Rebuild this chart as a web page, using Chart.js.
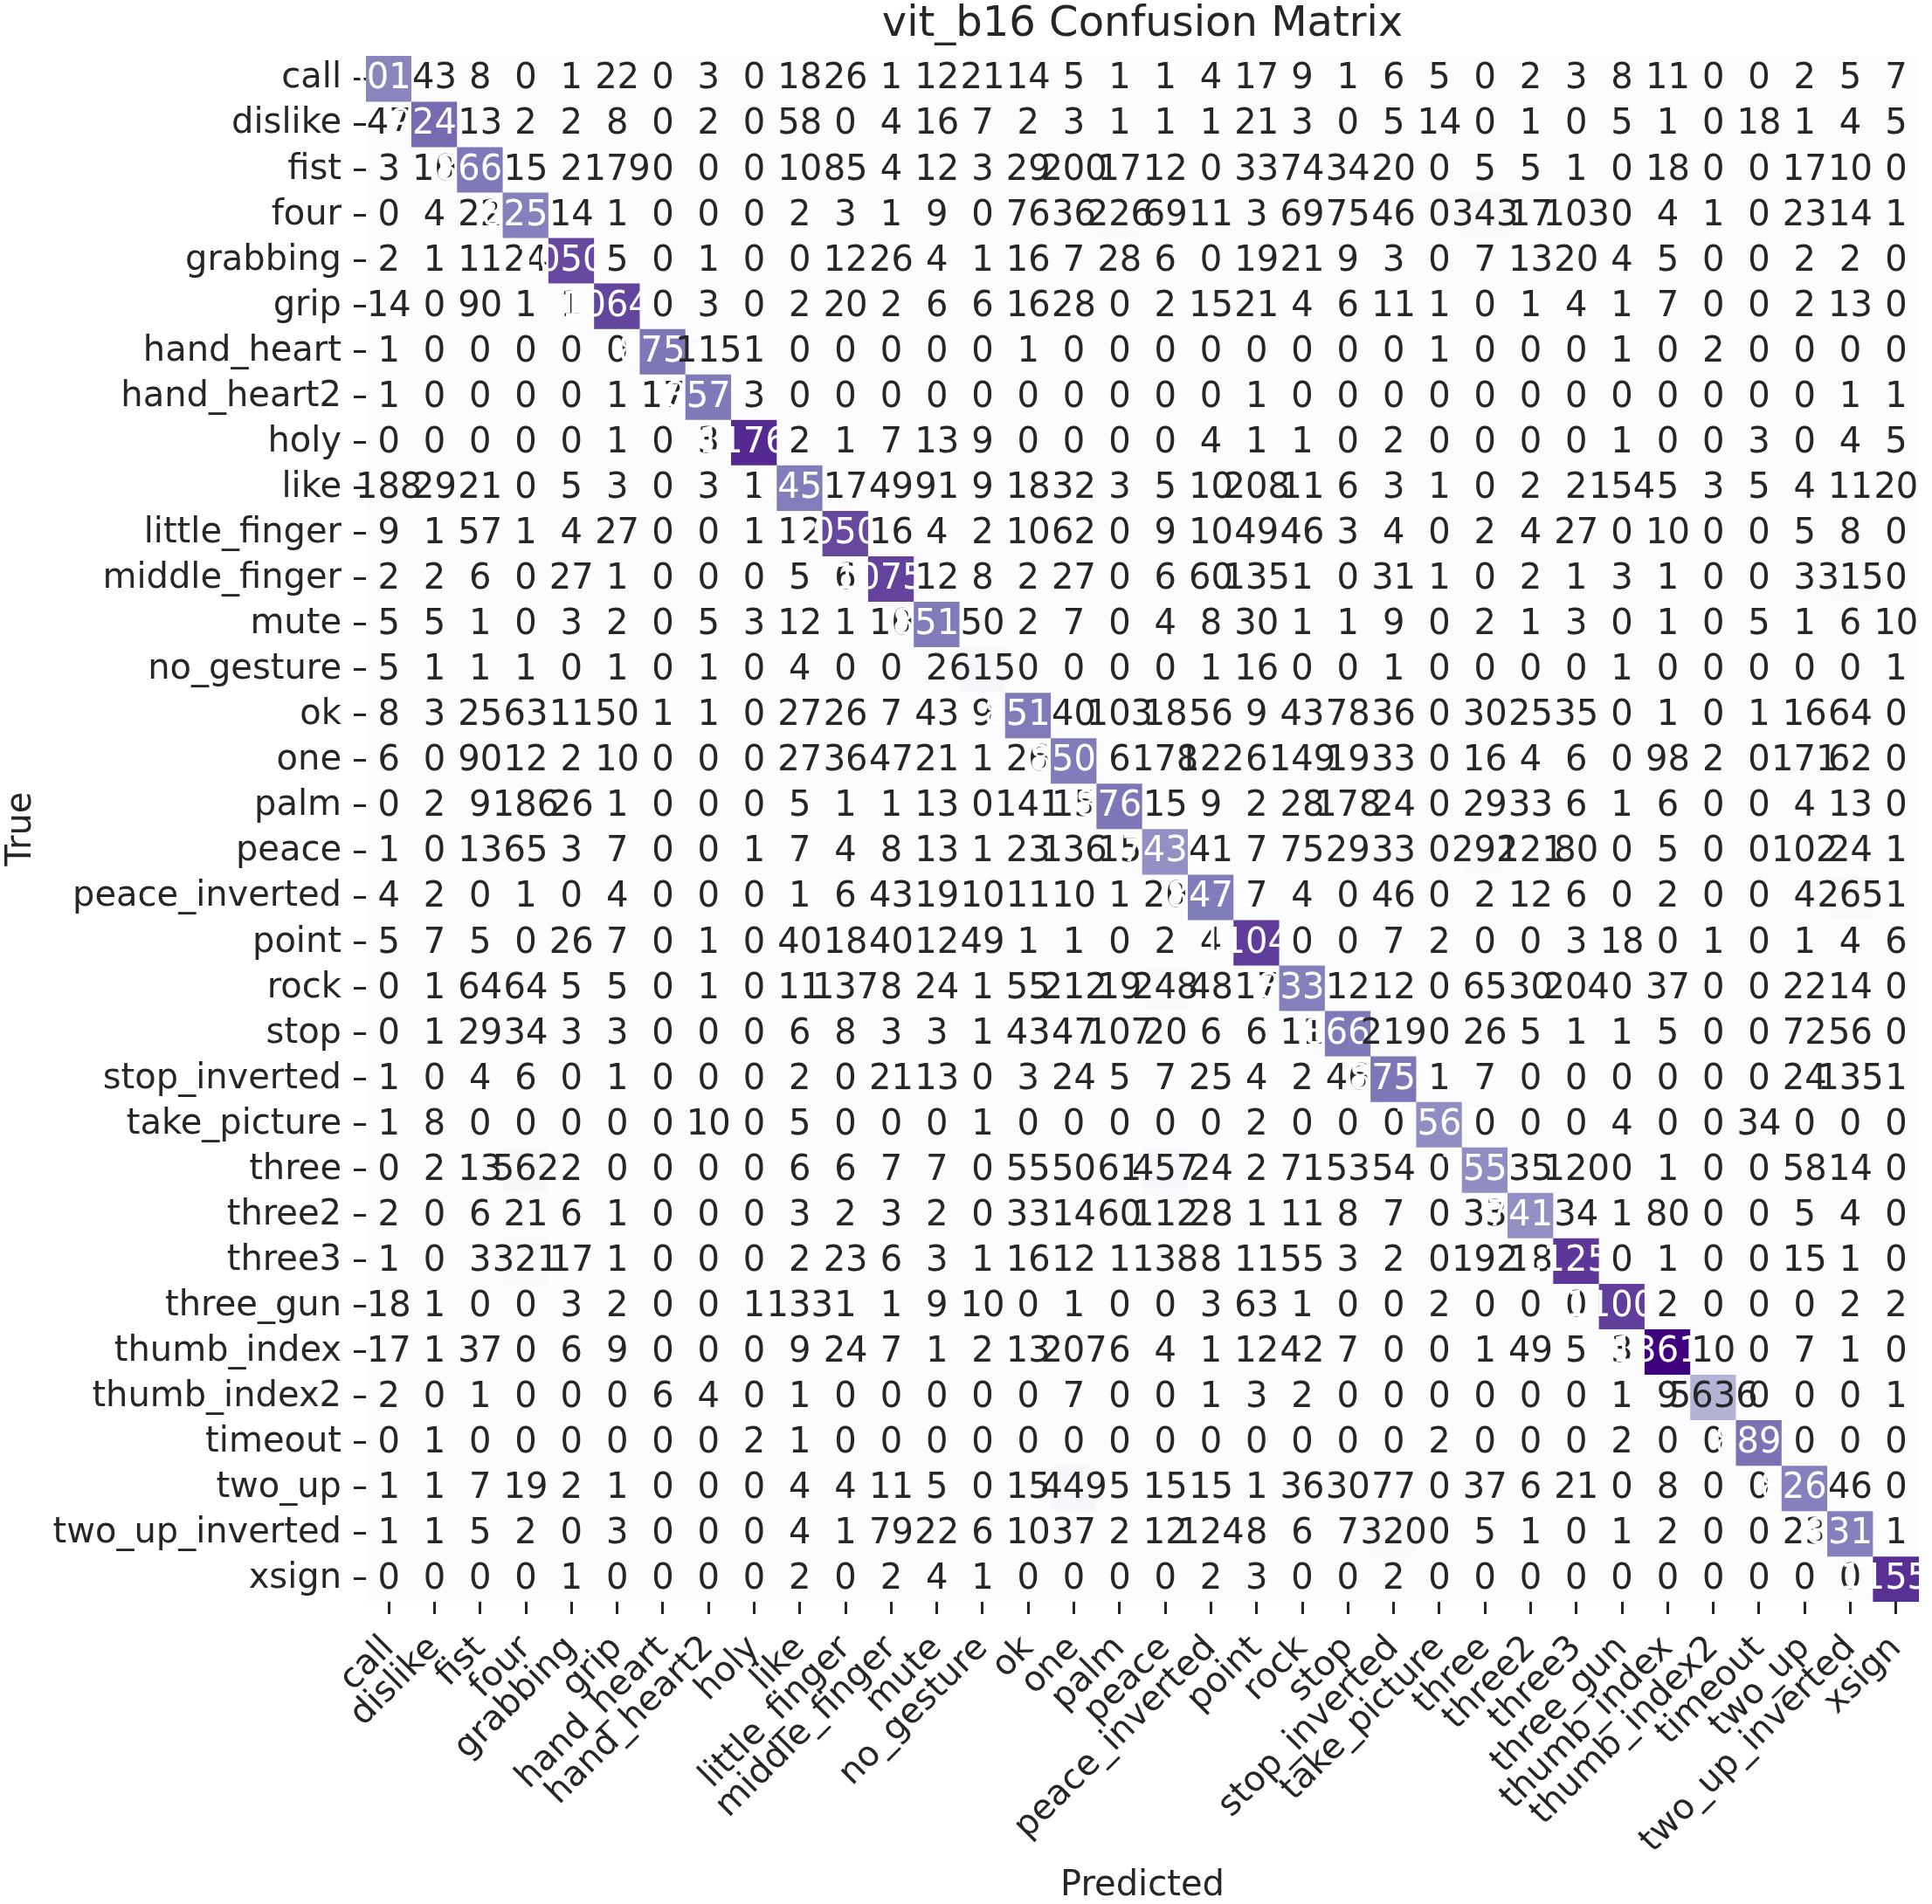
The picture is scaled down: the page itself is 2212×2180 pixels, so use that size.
<!DOCTYPE html>
<html>
<head>
<meta charset="utf-8">
<script src="https://cdn.jsdelivr.net/npm/chart.js@4.4.1/dist/chart.umd.min.js"></script>
<style>
  html, body { margin: 0; padding: 0; background: #ffffff; }
  #wrap { width: 2212px; height: 2180px; }
</style>
</head>
<body>
<div id="wrap"><canvas id="cm"></canvas></div>
<script>
// class names, used both for true rows and predicted columns
const classes = [
  "call", "dislike", "fist", "four", "grabbing", "grip", "hand_heart", "hand_heart2",
  "holy", "like", "little_finger", "middle_finger", "mute", "no_gesture", "ok", "one",
  "palm", "peace", "peace_inverted", "point", "rock", "stop", "stop_inverted",
  "take_picture", "three", "three2", "three3", "three_gun", "thumb_index",
  "thumb_index2", "timeout", "two_up", "two_up_inverted", "xsign"
];

// one row per true class, counts per predicted class
const call            = [8013, 43, 8, 0, 1, 22, 0, 3, 0, 18, 26, 1, 12, 21, 14, 5, 1, 1, 4, 17, 9, 1, 6, 5, 0, 2, 3, 8, 11, 0, 0, 2, 5, 7];
const dislike         = [47, 9241, 13, 2, 2, 8, 0, 2, 0, 58, 0, 4, 16, 7, 2, 3, 1, 1, 1, 21, 3, 0, 5, 14, 0, 1, 0, 5, 1, 0, 18, 1, 4, 5];
const fist            = [3, 10, 8662, 15, 2, 179, 0, 0, 0, 10, 85, 4, 12, 3, 29, 200, 17, 12, 0, 33, 74, 34, 20, 0, 5, 5, 1, 0, 18, 0, 0, 17, 10, 0];
const four            = [0, 4, 22, 8254, 14, 1, 0, 0, 0, 2, 3, 1, 9, 0, 76, 36, 226, 69, 11, 3, 69, 75, 46, 0, 343, 17, 103, 0, 4, 1, 0, 23, 14, 1];
const grabbing        = [2, 1, 11, 24, 10503, 5, 0, 1, 0, 0, 12, 26, 4, 1, 16, 7, 28, 6, 0, 19, 21, 9, 3, 0, 7, 13, 20, 4, 5, 0, 0, 2, 2, 0];
const grip            = [14, 0, 90, 1, 1, 10642, 0, 3, 0, 2, 20, 2, 6, 6, 16, 28, 0, 2, 15, 21, 4, 6, 11, 1, 0, 1, 4, 1, 7, 0, 0, 2, 13, 0];
const hand_heart      = [1, 0, 0, 0, 0, 0, 8752, 115, 1, 0, 0, 0, 0, 0, 1, 0, 0, 0, 0, 0, 0, 0, 0, 1, 0, 0, 0, 1, 0, 2, 0, 0, 0, 0];
const hand_heart2     = [1, 0, 0, 0, 0, 1, 17, 8571, 3, 0, 0, 0, 0, 0, 0, 0, 0, 0, 0, 1, 0, 0, 0, 0, 0, 0, 0, 0, 0, 0, 0, 0, 1, 1];
const holy            = [0, 0, 0, 0, 0, 1, 0, 3, 11760, 2, 1, 7, 13, 9, 0, 0, 0, 0, 4, 1, 1, 0, 2, 0, 0, 0, 0, 1, 0, 0, 3, 0, 4, 5];
const like            = [188, 29, 21, 0, 5, 3, 0, 3, 1, 8453, 17, 49, 91, 9, 18, 32, 3, 5, 10, 208, 11, 6, 3, 1, 0, 2, 2, 154, 5, 3, 5, 4, 11, 20];
const little_finger   = [9, 1, 57, 1, 4, 27, 0, 0, 1, 12, 10501, 16, 4, 2, 10, 62, 0, 9, 10, 49, 46, 3, 4, 0, 2, 4, 27, 0, 10, 0, 0, 5, 8, 0];
const middle_finger   = [2, 2, 6, 0, 27, 1, 0, 0, 0, 5, 6, 10753, 12, 8, 2, 27, 0, 6, 60, 135, 1, 0, 31, 1, 0, 2, 1, 3, 1, 0, 0, 3, 315, 0];
const mute            = [5, 5, 1, 0, 3, 2, 0, 5, 3, 12, 1, 10, 8512, 50, 2, 7, 0, 4, 8, 30, 1, 1, 9, 0, 2, 1, 3, 0, 1, 0, 5, 1, 6, 10];
const no_gesture      = [5, 1, 1, 1, 0, 1, 0, 1, 0, 4, 0, 0, 2, 615, 0, 0, 0, 0, 1, 16, 0, 0, 1, 0, 0, 0, 0, 1, 0, 0, 0, 0, 0, 1];
const ok              = [8, 3, 25, 63, 11, 50, 1, 1, 0, 27, 26, 7, 43, 9, 8513, 40, 103, 18, 56, 9, 43, 78, 36, 0, 30, 25, 35, 0, 1, 0, 1, 16, 64, 0];
const one             = [6, 0, 90, 12, 2, 10, 0, 0, 0, 27, 36, 47, 21, 1, 26, 8504, 6, 178, 122, 6, 149, 19, 33, 0, 16, 4, 6, 0, 98, 2, 0, 171, 62, 0];
const palm            = [0, 2, 9, 186, 26, 1, 0, 0, 0, 5, 1, 1, 13, 0, 141, 15, 8760, 15, 9, 2, 28, 178, 24, 0, 29, 33, 6, 1, 6, 0, 0, 4, 13, 0];
const peace           = [1, 0, 13, 65, 3, 7, 0, 0, 1, 7, 4, 8, 13, 1, 23, 136, 15, 7432, 41, 7, 75, 29, 33, 0, 292, 121, 80, 0, 5, 0, 0, 102, 24, 1];
const peace_inverted  = [4, 2, 0, 1, 0, 4, 0, 0, 0, 1, 6, 43, 19, 10, 11, 10, 1, 20, 8472, 7, 4, 0, 46, 0, 2, 12, 6, 0, 2, 0, 0, 4, 265, 1];
const point           = [5, 7, 5, 0, 26, 7, 0, 1, 0, 40, 18, 40, 12, 49, 1, 1, 0, 2, 4, 11043, 0, 0, 7, 2, 0, 0, 3, 18, 0, 1, 0, 1, 4, 6];
const rock            = [0, 1, 64, 64, 5, 5, 0, 1, 0, 11, 137, 8, 24, 1, 55, 212, 19, 248, 48, 17, 8331, 12, 12, 0, 65, 30, 204, 0, 37, 0, 0, 22, 14, 0];
const stop            = [0, 1, 29, 34, 3, 3, 0, 0, 0, 6, 8, 3, 3, 1, 43, 47, 107, 20, 6, 6, 11, 8663, 219, 0, 26, 5, 1, 1, 5, 0, 0, 72, 56, 0];
const stop_inverted   = [1, 0, 4, 6, 0, 1, 0, 0, 0, 2, 0, 21, 13, 0, 3, 24, 5, 7, 25, 4, 2, 46, 8751, 1, 7, 0, 0, 0, 0, 0, 0, 24, 135, 1];
const take_picture    = [1, 8, 0, 0, 0, 0, 0, 10, 0, 5, 0, 0, 0, 1, 0, 0, 0, 0, 0, 2, 0, 0, 0, 7562, 0, 0, 0, 4, 0, 0, 34, 0, 0, 0];
const three           = [0, 2, 13, 562, 2, 0, 0, 0, 0, 6, 6, 7, 7, 0, 55, 50, 61, 457, 24, 2, 71, 53, 54, 0, 7553, 35, 120, 0, 1, 0, 0, 58, 14, 0];
const three2          = [2, 0, 6, 21, 6, 1, 0, 0, 0, 3, 2, 3, 2, 0, 33, 14, 60, 112, 28, 1, 11, 8, 7, 0, 33, 7412, 34, 1, 80, 0, 0, 5, 4, 0];
const three3          = [1, 0, 3, 321, 17, 1, 0, 0, 0, 2, 23, 6, 3, 1, 16, 12, 1, 138, 8, 11, 55, 3, 2, 0, 192, 18, 11254, 0, 1, 0, 0, 15, 1, 0];
const three_gun       = [18, 1, 0, 0, 3, 2, 0, 0, 1, 133, 1, 1, 9, 10, 0, 1, 0, 0, 3, 63, 1, 0, 0, 2, 0, 0, 0, 11002, 2, 0, 0, 0, 2, 2];
const thumb_index     = [17, 1, 37, 0, 6, 9, 0, 0, 0, 9, 24, 7, 1, 2, 13, 207, 6, 4, 1, 12, 42, 7, 0, 0, 1, 49, 5, 3, 13614, 10, 0, 7, 1, 0];
const thumb_index2    = [2, 0, 1, 0, 0, 0, 6, 4, 0, 1, 0, 0, 0, 0, 0, 7, 0, 0, 1, 3, 2, 0, 0, 0, 0, 0, 0, 1, 9, 5636, 0, 0, 0, 1];
const timeout         = [0, 1, 0, 0, 0, 0, 0, 0, 2, 1, 0, 0, 0, 0, 0, 0, 0, 0, 0, 0, 0, 0, 0, 2, 0, 0, 0, 2, 0, 0, 8893, 0, 0, 0];
const two_up          = [1, 1, 7, 19, 2, 1, 0, 0, 0, 4, 4, 11, 5, 0, 15, 449, 5, 15, 15, 1, 36, 30, 77, 0, 37, 6, 21, 0, 8, 0, 0, 8264, 46, 0];
const two_up_inverted = [1, 1, 5, 2, 0, 3, 0, 0, 0, 4, 1, 79, 22, 6, 10, 37, 2, 12, 124, 8, 6, 7, 320, 0, 5, 1, 0, 1, 2, 0, 0, 23, 8315, 1];
const xsign           = [0, 0, 0, 0, 1, 0, 0, 0, 0, 2, 0, 2, 4, 1, 0, 0, 0, 0, 2, 3, 0, 0, 2, 0, 0, 0, 0, 0, 0, 0, 0, 0, 0, 11552];

const matrix = [
  call, dislike, fist, four, grabbing, grip, hand_heart, hand_heart2, holy, like,
  little_finger, middle_finger, mute, no_gesture, ok, one, palm, peace, peace_inverted,
  point, rock, stop, stop_inverted, take_picture, three, three2, three3, three_gun,
  thumb_index, thumb_index2, timeout, two_up, two_up_inverted, xsign
];

// matplotlib "Purples"
const purples = ["#fcfbfd", "#efedf5", "#dadaeb", "#bcbddc", "#9e9ac8", "#807dba", "#6a51a3", "#54278f", "#3f007d"];
const vmax = Math.max(...matrix.flat());
const ink = "#262626";
const font = "DejaVu Sans";

function hexRgb(h) {
  return [1, 3, 5].map(i => parseInt(h.slice(i, i + 2), 16));
}

function cellRgb(v) {
  let f = Math.floor((v / vmax) * 256);
  f = Math.min(f, 255) / 255;
  const pos = f * (purples.length - 1);
  const i = Math.min(Math.floor(pos), purples.length - 2);
  const t = pos - i;
  const a = hexRgb(purples[i]), b = hexRgb(purples[i + 1]);
  return a.map((c, k) => Math.round(c + (b[k] - c) * t));
}

function cellColor(v) {
  const [r, g, b] = cellRgb(v);
  return `rgb(${r},${g},${b})`;
}

// seaborn picks white or dark text from the cell luminance
function textColor(v) {
  const lin = cellRgb(v).map(c => {
    c /= 255;
    return c <= 0.03928 ? c / 12.92 : Math.pow((c + 0.055) / 1.055, 2.4);
  });
  const lum = 0.2126 * lin[0] + 0.7152 * lin[1] + 0.0722 * lin[2];
  return lum > 0.408 ? ink : "#ffffff";
}

const annotate = {
  id: "annotate",
  afterDatasetsDraw(chart) {
    const { ctx, scales: { x, y } } = chart;
    ctx.save();
    ctx.font = `40px "${font}"`;
    ctx.textAlign = "center";
    ctx.textBaseline = "middle";
    matrix.forEach((row, r) => {
      row.forEach((v, c) => {
        ctx.fillStyle = textColor(v);
        ctx.fillText(String(v), x.getPixelForValue(c), y.getPixelForValue(r + 0.5) + 1);
      });
    });
    ctx.restore();
  }
};

const datasets = matrix.map((row, r) => ({
  label: classes[r],
  data: row.map(() => [r, r + 1]),
  backgroundColor: row.map(v => cellColor(v)),
  borderWidth: 0,
  barPercentage: 1,
  categoryPercentage: 1,
  grouped: false
}));

new Chart(document.getElementById("cm"), {
  type: "bar",
  data: { labels: classes, datasets },
  plugins: [annotate],
  options: {
    responsive: true,
    maintainAspectRatio: false,
    animation: false,
    devicePixelRatio: 1,
    layout: { padding: { left: 0, right: 15, top: 0, bottom: 0 } },
    plugins: {
      legend: { display: false },
      tooltip: { enabled: false },
      title: {
        display: true,
        fullSize: false,
        text: "vit_b16 Confusion Matrix",
        color: ink,
        font: { family: font, size: 48, weight: "normal", lineHeight: 1 },
        padding: { top: 5, bottom: 11 }
      }
    },
    scales: {
      x: {
        type: "category",
        offset: true,
        grid: { display: true, offset: false, drawOnChartArea: false, drawTicks: true, tickLength: 14, tickWidth: 3, tickColor: ink },
        border: { display: false },
        ticks: {
          autoSkip: false, minRotation: 45, maxRotation: 45, padding: 16,
          color: ink, font: { family: font, size: 40 }
        },
        title: {
          display: true, text: "Predicted", color: ink,
          font: { family: font, size: 40, lineHeight: 1 },
          padding: { top: 0, bottom: 0 }
        },
        afterFit(scale) {
          scale.height = 346;
          scale.paddingLeft = 0;
          scale.paddingRight = 0;
        }
      },
      y: {
        type: "linear",
        min: 0,
        max: classes.length,
        reverse: true,
        afterBuildTicks(scale) {
          scale.ticks = classes.map((_, i) => ({ value: i + 0.5 }));
        },
        grid: { display: true, drawOnChartArea: false, drawTicks: true, tickLength: 14, tickWidth: 3, tickColor: ink },
        border: { display: false },
        ticks: {
          autoSkip: false, padding: 14, color: ink,
          font: { family: font, size: 40 },
          callback: (v) => classes[Math.floor(v)]
        },
        title: {
          display: true, text: "True", color: ink,
          font: { family: font, size: 40, lineHeight: 1 },
          padding: { top: 5, bottom: 0 }
        },
        afterFit(scale) {
          scale.width = 419;
          scale.paddingTop = 0;
          scale.paddingBottom = 0;
        }
      }
    }
  }
});
</script>
</body>
</html>
